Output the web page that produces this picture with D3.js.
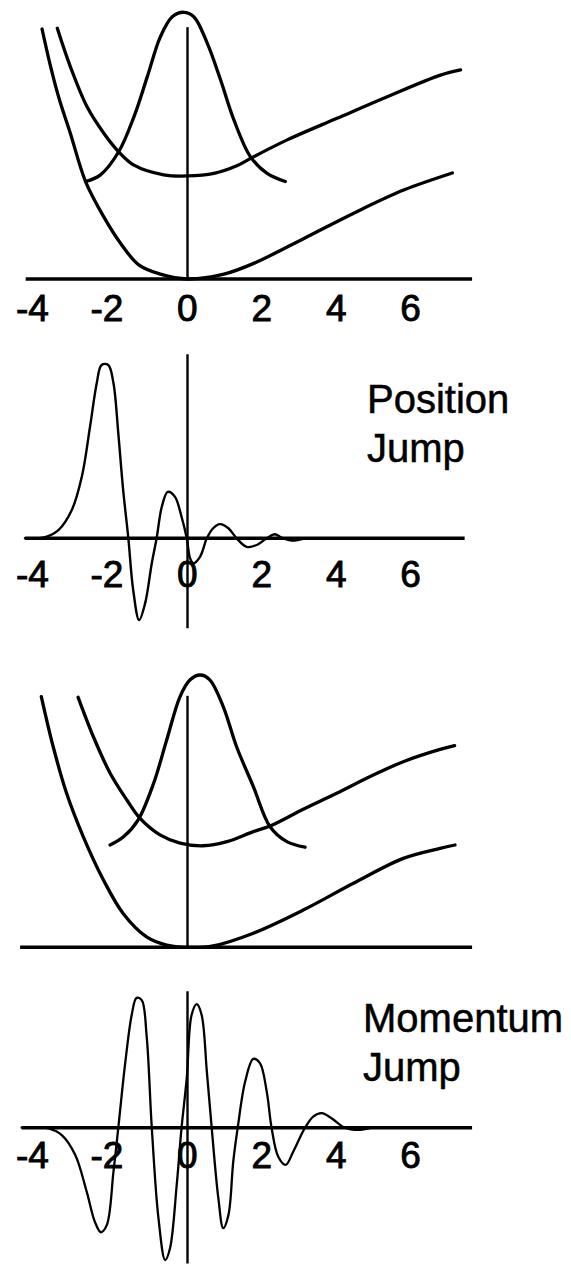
<!DOCTYPE html>
<html>
<head>
<meta charset="utf-8">
<script src="https://cdn.jsdelivr.net/npm/d3@7"></script>
<style>
  html, body { margin: 0; padding: 0; background: #fff; }
  svg { display: block; }
  text { font-family: "Liberation Sans", Arial, Helvetica, sans-serif; fill: #000; }
</style>
</head>
<body>
<svg id="chart" width="571" height="1265"></svg>
<script>
// ---- tick labels shared by the labelled panels ----
const tickValues = [-4, -2, 0, 2, 4, 6];

// ---- panel A: potentials and wavepacket before a position jump ----
const groundWellA = [[-3.91,6.72],[-3.68,5.71],[-3.44,4.81],[-3.15,3.92],[-2.74,2.62],[-2.25,1.67],
  [-1.80,0.96],[-1.31,0.38],[-0.73,0.13],[0,0],[0.98,0.13],[1.78,0.42],[3.13,1.09],[4.47,1.77],
  [5.81,2.39],[7.12,2.85]];
const excitedWellA = [[-3.50,6.74],[-3.15,5.71],[-2.70,4.63],[-2.25,3.92],[-1.85,3.42],[-1.44,3.06],
  [-0.64,2.80],[0,2.77],[0.71,2.84],[1.34,3.05],[1.69,3.24],[2.68,3.74],[4.02,4.32],[5.37,4.90],
  [6.80,5.48],[7.34,5.62]];
const packetA = [[-2.74,2.62],[-2.34,2.80],[-1.85,3.42],[-1.44,4.36],[-1.08,5.44],[-0.73,6.51],
  [-0.41,7.05],[-0.10,7.17],[0.17,7.05],[0.53,6.34],[0.89,5.35],[1.25,4.27],[1.69,3.29],
  [2.14,2.84],[2.63,2.62]];

// ---- panel B: position-jump difference wavefunction ----
const positionJump = [[-4.37,0],[-3.83,0.03],[-3.47,0.22],[-3.11,0.76],[-2.84,1.66],[-2.62,3.00],
  [-2.44,4.17],[-2.31,4.66],[-2.13,4.66],[-1.99,4.17],[-1.86,2.82],[-1.73,1.30],[-1.59,0],
  [-1.46,-1.39],[-1.30,-2.20],[-1.14,-1.75],[-0.96,-0.67],[-0.83,0],[-0.69,0.85],[-0.53,1.25],
  [-0.34,1.12],[-0.16,0.58],[-0.02,0],[0.07,-0.54],[0.16,-0.67],[0.34,-0.49],[0.52,0],
  [0.69,0.27],[0.87,0.38],[1.10,0.27],[1.32,0],[1.59,-0.23],[1.86,-0.18],[2.13,0],[2.35,0.11],
  [2.53,0.02],[2.80,-0.06],[3.16,0]];

// ---- panel C: potentials and wavepacket before a momentum jump ----
const groundWellC = [[-3.93,6.74],[-3.61,5.39],[-3.25,4.14],[-2.80,2.97],[-2.26,1.81],[-1.73,0.91],
  [-1.10,0.28],[-0.56,0.06],[0,0],[0.69,0.04],[1.77,0.38],[3.11,1.00],[4.46,1.72],[5.80,2.39],
  [6.79,2.66],[7.19,2.75]];
const excitedWellC = [[-2.94,6.72],[-2.53,5.66],[-2.08,4.68],[-1.63,3.96],[-1.28,3.47],[-0.74,3.02],
  [-0.20,2.80],[0.42,2.73],[1.06,2.84],[1.77,3.11],[2.22,3.26],[3.11,3.71],[4.01,4.14],
  [4.91,4.59],[5.80,4.99],[6.79,5.32],[7.18,5.42]];
const packetC = [[-2.08,2.75],[-1.72,2.97],[-1.33,3.42],[-0.91,4.41],[-0.56,5.57],[-0.20,6.74],
  [0.07,7.19],[0.34,7.32],[0.60,7.19],[0.96,6.47],[1.32,5.39],[1.77,4.32],[2.22,3.24],
  [2.67,2.84],[3.16,2.69]];

// ---- panel D: momentum-jump difference wavefunction ----
const momentumJump = [[-4.46,0],[-3.74,-0.02],[-3.38,-0.20],[-3.02,-0.73],[-2.71,-1.72],[-2.49,-2.53],
  [-2.33,-2.81],[-2.17,-2.62],[-1.99,-1.18],[-1.86,0],[-1.68,1.69],[-1.50,3.03],[-1.37,3.49],
  [-1.23,3.43],[-1.10,2.49],[-0.96,0],[-0.78,-2.44],[-0.60,-3.56],[-0.47,-3.24],[-0.29,-1.54],
  [-0.16,0],[-0.02,1.33],[0.11,3.03],[0.25,3.32],[0.38,3.03],[0.52,1.51],[0.65,0],[0.83,-1.90],
  [0.96,-2.70],[1.10,-2.35],[1.23,-0.91],[1.35,0],[1.55,1.24],[1.77,1.85],[1.95,1.73],[2.13,0.97],
  [2.26,0],[2.44,-0.78],[2.64,-1.00],[2.84,-0.65],[3.16,0],[3.38,0.30],[3.61,0.39],[3.88,0.25],
  [4.23,0],[4.59,-0.06],[4.95,0]];

const svg = d3.select("#chart");
const unit = 37.2;            // pixels per data unit, both directions
const x0 = 187.5;             // pixel column of x = 0

function makePanel(cfg) {
  const x = d3.scaleLinear().domain([0, 1]).range([x0, x0 + unit]);
  const y = d3.scaleLinear().domain([0, 1]).range([cfg.base, cfg.base - unit]);
  const g = svg.append("g");
  const line = d3.line().x(d => x(d[0])).y(d => y(d[1]))
    .curve(d3.curveCatmullRom.alpha(0.5));

  // horizontal axis
  g.append("line")
    .attr("x1", x(cfg.xMin)).attr("x2", x(cfg.xMax))
    .attr("y1", y(0)).attr("y2", y(0))
    .attr("stroke", "#000").attr("stroke-width", 3.4);
  // vertical axis
  g.append("line")
    .attr("x1", x(0)).attr("x2", x(0))
    .attr("y1", y(cfg.yTop)).attr("y2", y(cfg.yBottom))
    .attr("stroke", "#000").attr("stroke-width", 2.4);

  cfg.curves.forEach(c => {
    g.append("path").attr("d", line(c))
      .attr("fill", "none").attr("stroke", "#000")
      .attr("stroke-width", cfg.lineWidth)
      .attr("stroke-linejoin", "round").attr("stroke-linecap", "round");
  });

  if (cfg.labels) {
    const digitHalf = 10.2;  // labels are centred on their digit, the minus sign hangs left
    g.selectAll("text.tick").data(tickValues).enter().append("text")
      .attr("class", "tick")
      .attr("x", d => x(d) + digitHalf)
      .attr("y", y(0) + cfg.labelDy)
      .attr("text-anchor", "end")
      .attr("font-size", 37)
      .attr("stroke", "#000").attr("stroke-width", 0.9)
      .text(d => d < 0 ? "-" + Math.abs(d) : String(d));
  }
  if (cfg.title) {
    cfg.title.forEach((t, i) => {
      g.append("text").attr("x", cfg.titleX).attr("y", cfg.titleY + i * 49)
        .attr("font-size", 40)
        .attr("stroke", "#000").attr("stroke-width", 0.5)
        .text(t);
    });
  }
}

makePanel({ base: 279, xMin: -4.35, xMax: 7.65, yTop: 6.77, yBottom: 0,
  curves: [groundWellA, excitedWellA, packetA], lineWidth: 3.3, labels: true, labelDy: 42 });

makePanel({ base: 538.3, xMin: -4.37, xMax: 7.45, yTop: 4.95, yBottom: -2.42,
  curves: [positionJump], lineWidth: 2.4, labels: true, labelDy: 49,
  title: ["Position", "Jump"], titleX: 367, titleY: 413 });

makePanel({ base: 947.3, xMin: -4.5, xMax: 7.65, yTop: 6.76, yBottom: 0,
  curves: [groundWellC, excitedWellC, packetC], lineWidth: 3.3, labels: false });

makePanel({ base: 1127.7, xMin: -4.46, xMax: 7.65, yTop: 3.67, yBottom: -3.65,
  curves: [momentumJump], lineWidth: 2.3, labels: true, labelDy: 40,
  title: ["Momentum", "Jump"], titleX: 363, titleY: 1032 });
</script>
</body>
</html>
